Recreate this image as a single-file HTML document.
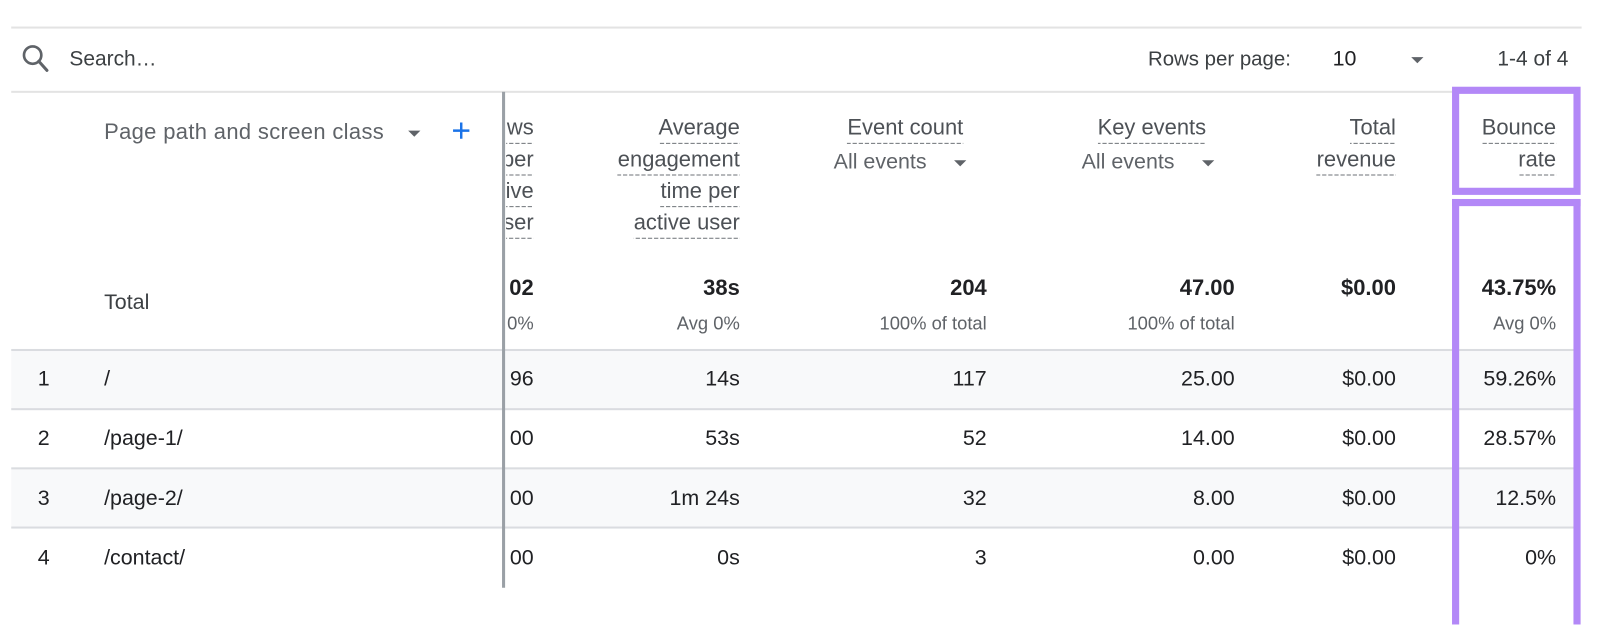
<!DOCTYPE html>
<html>
<head>
<meta charset="utf-8">
<style>
  html,body{margin:0;padding:0;background:#fff;}
  body{width:1600px;height:622px;position:relative;overflow:hidden;font-family:"Liberation Sans",Arial,sans-serif;color:#202124;}
  #w{position:absolute;left:0;top:0;width:1568px;height:610px;transform:scale(1.0204);transform-origin:0 0;}
  .a{position:absolute;white-space:nowrap;}
  .hl{position:absolute;height:1px;background:#dadce0;}
  .t{line-height:24px;font-size:21px;}
  .r{text-align:right;}
  .hd{position:absolute;text-align:right;font-size:21.5px;color:#4d5156;line-height:31px;}
  .hd span{display:inline-block;height:31px;background-image:linear-gradient(to right,#70757a 0,#70757a 4px,transparent 4px,transparent 6px);background-size:6px 1px;background-repeat:repeat-x;background-position:right bottom;}
  .sub{font-size:18px;color:#5f6368;line-height:22px;}
  .tot{font-size:21.5px;font-weight:bold;color:#202124;line-height:24px;}
  .tri{position:absolute;width:0;height:0;border-left:6px solid transparent;border-right:6px solid transparent;border-top:6px solid #5f6368;}
  .ae{position:absolute;font-size:21px;line-height:22px;color:#5f6368;}
</style>
</head>
<body>
<div id="w">

<!-- top rules -->
<div class="hl" style="left:11px;top:26px;width:1539px;height:2px;background:#e3e3e3;"></div>
<div class="hl" style="left:11px;top:89px;width:1412px;height:2px;background:#e3e3e3;"></div>

<!-- search -->
<svg class="a" style="left:18px;top:40px;" width="34" height="34" viewBox="0 0 34 34">
  <circle cx="14" cy="14" r="8.5" fill="none" stroke="#5f6368" stroke-width="2.6"/>
  <line x1="20" y1="20" x2="28" y2="29" stroke="#5f6368" stroke-width="3" stroke-linecap="round"/>
</svg>
<div class="a" style="left:68px;top:46px;font-size:20.5px;line-height:24px;color:#3c4043;">Search…</div>

<div class="a" style="left:1125px;top:47px;font-size:20px;line-height:22px;color:#3c4043;">Rows per page:</div>
<div class="a" style="left:1306px;top:46px;font-size:21px;line-height:24px;color:#202124;">10</div>
<div class="tri" style="left:1383px;top:56px;"></div>
<div class="a r" style="right:31px;top:47px;font-size:20.5px;line-height:22px;color:#3c4043;">1-4 of 4</div>

<!-- row backgrounds & lines -->
<div class="a" style="left:11px;top:344px;width:1534px;height:57px;background:#f8f9fa;"></div>
<div class="a" style="left:11px;top:460px;width:1534px;height:57px;background:#f8f9fa;"></div>
<div class="hl" style="left:11px;top:342px;width:1534px;height:2px;"></div>
<div class="hl" style="left:11px;top:400px;width:1534px;height:2px;"></div>
<div class="hl" style="left:11px;top:458px;width:1534px;height:2px;"></div>
<div class="hl" style="left:11px;top:516px;width:1534px;height:2px;"></div>

<!-- dimension header -->
<div class="a" style="left:102px;top:117px;font-size:21.5px;line-height:24px;letter-spacing:0.35px;color:#5f6368;">Page path and screen class</div>
<div class="tri" style="left:400px;top:128px;"></div>
<svg class="a" style="left:442px;top:118px;" width="20" height="20" viewBox="0 0 20 20">
  <line x1="10" y1="2" x2="10" y2="18" stroke="#1a73e8" stroke-width="2.4"/>
  <line x1="2" y1="10" x2="18" y2="10" stroke="#1a73e8" stroke-width="2.4"/>
</svg>

<!-- clipped column -->
<div class="a" style="left:496px;top:100px;width:27px;height:480px;overflow:hidden;">
  <div class="hd" style="right:0;top:10px;width:200px;">
    <span>Views</span><br><span>per</span><br><span>active</span><br><span>user</span>
  </div>
  <div class="a tot r" style="right:0;top:170px;">02</div>
  <div class="a sub r" style="right:0;top:206px;">0%</div>
  <div class="a t r" style="right:0;top:260px;">96</div>
  <div class="a t r" style="right:0;top:318px;">00</div>
  <div class="a t r" style="right:0;top:377px;">00</div>
  <div class="a t r" style="right:0;top:435px;">00</div>
</div>

<!-- divider -->
<div class="a" style="left:492px;top:90px;width:3px;height:486px;background:#9aa0a6;"></div>

<!-- Average engagement -->
<div class="hd" style="right:843px;top:110px;width:300px;">
  <span>Average</span><br><span>engagement</span><br><span>time per</span><br><span>active user</span>
</div>

<!-- Event count -->
<div class="hd" style="right:624px;top:110px;width:300px;"><span>Event count</span></div>
<div class="ae" style="left:817px;top:148px;">All events</div>
<div class="tri" style="left:935px;top:157px;"></div>

<!-- Key events -->
<div class="hd" style="right:386px;top:110px;width:300px;"><span>Key events</span></div>
<div class="ae" style="left:1060px;top:148px;">All events</div>
<div class="tri" style="left:1178px;top:157px;"></div>

<!-- Total revenue -->
<div class="hd" style="right:200px;top:110px;width:300px;"><span>Total</span><br><span>revenue</span></div>

<!-- Bounce rate -->
<div class="hd" style="right:43px;top:110px;width:300px;"><span>Bounce</span><br><span>rate</span></div>

<!-- Totals -->
<div class="a" style="left:102px;top:285px;font-size:21px;line-height:24px;color:#3c4043;">Total</div>
<div class="a tot r" style="right:843px;top:270px;">38s</div>
<div class="a tot r" style="right:601px;top:270px;">204</div>
<div class="a tot r" style="right:358px;top:270px;">47.00</div>
<div class="a tot r" style="right:200px;top:270px;">$0.00</div>
<div class="a tot r" style="right:43px;top:270px;">43.75%</div>

<div class="a sub r" style="right:843px;top:306px;">Avg 0%</div>
<div class="a sub r" style="right:601px;top:306px;">100% of total</div>
<div class="a sub r" style="right:358px;top:306px;">100% of total</div>
<div class="a sub r" style="right:43px;top:306px;">Avg 0%</div>

<!-- Row 1 -->
<div class="a t" style="left:37px;top:360px;">1</div>
<div class="a t" style="left:102px;top:360px;">/</div>
<div class="a t r" style="right:843px;top:360px;">14s</div>
<div class="a t r" style="right:601px;top:360px;">117</div>
<div class="a t r" style="right:358px;top:360px;">25.00</div>
<div class="a t r" style="right:200px;top:360px;">$0.00</div>
<div class="a t r" style="right:43px;top:360px;">59.26%</div>

<!-- Row 2 -->
<div class="a t" style="left:37px;top:418px;">2</div>
<div class="a t" style="left:102px;top:418px;">/page-1/</div>
<div class="a t r" style="right:843px;top:418px;">53s</div>
<div class="a t r" style="right:601px;top:418px;">52</div>
<div class="a t r" style="right:358px;top:418px;">14.00</div>
<div class="a t r" style="right:200px;top:418px;">$0.00</div>
<div class="a t r" style="right:43px;top:418px;">28.57%</div>

<!-- Row 3 -->
<div class="a t" style="left:37px;top:477px;">3</div>
<div class="a t" style="left:102px;top:477px;">/page-2/</div>
<div class="a t r" style="right:843px;top:477px;">1m 24s</div>
<div class="a t r" style="right:601px;top:477px;">32</div>
<div class="a t r" style="right:358px;top:477px;">8.00</div>
<div class="a t r" style="right:200px;top:477px;">$0.00</div>
<div class="a t r" style="right:43px;top:477px;">12.5%</div>

<!-- Row 4 -->
<div class="a t" style="left:37px;top:535px;">4</div>
<div class="a t" style="left:102px;top:535px;">/contact/</div>
<div class="a t r" style="right:843px;top:535px;">0s</div>
<div class="a t r" style="right:601px;top:535px;">3</div>
<div class="a t r" style="right:358px;top:535px;">0.00</div>
<div class="a t r" style="right:200px;top:535px;">$0.00</div>
<div class="a t r" style="right:43px;top:535px;">0%</div>

<!-- Purple highlight boxes -->
<div class="a" style="left:1423px;top:85px;width:112.4px;height:92.4px;border:7.8px solid #b388f7;"></div>
<div class="a" style="left:1423px;top:195px;width:112.4px;height:410px;border:7.8px solid #b388f7;border-bottom:none;"></div>

</div>
</body>
</html>
